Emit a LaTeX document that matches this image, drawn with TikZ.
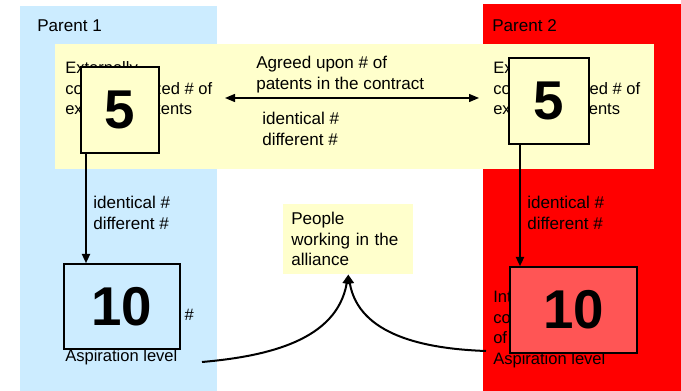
\documentclass[tikz,border=0pt]{standalone}
\usepackage{fontspec}
\setmainfont{Liberation Sans}
\usetikzlibrary{arrows.meta}

\definecolor{parentblue}{RGB}{204,236,255}
\definecolor{parentred}{RGB}{255,0,0}
\definecolor{notefill}{RGB}{255,255,204}
\definecolor{boxred}{RGB}{255,85,85}

\tikzset{
  txt/.style    = {anchor = north west, inner sep = 0pt, align = left,
                   font = \fontsize{12.8}{15.4}\selectfont},
  txtback/.style = {txt, font = \fontsize{12.4}{15.4}\selectfont},
  numbox/.style = {draw = black, line width = 1.1pt, inner sep = 0pt,
                   font = \fontsize{41}{41}\selectfont\bfseries},
  link/.style   = {line width = 1.5pt, -{Triangle[length = 7pt, width = 6pt]}},
}

\begin{document}
\begin{tikzpicture}[x = 0.75pt, y = -0.75pt]
        \useasboundingbox (0,0) rectangle (681,391);

        % parent panels and contract band
        \fill[parentblue] ( 20,6) rectangle (217,391);
        \fill[parentred]  (483,4) rectangle (681,391);
        \fill[notefill]   ( 55,44) rectangle (654,169);

        \node[txt, anchor = west] (par1) at ( 37,26) {Parent 1};
        \node[txt, anchor = west] (par2) at (492,26) {Parent 2};

        % texts behind the boxes
        \node[txtback] (extL) at ( 65,61.5) {Externally\\commercialized \# of\\exclusive patents};
        \node[txtback] (extR) at (493,61.5) {Externally\\commercialized \# of\\exclusive patents};
        \node[txtback] (intL) at ( 65,287.5) {Internally\\commercialized \#\\of patents\\Aspiration level};
        \node[txtback] (intR) at (493,290.5) {Internally\\commercialized \#\\of patents\\Aspiration level};

        % contract
        \node[txt] (agreed) at (256,56)  {Agreed upon \# of\\patents in the contract};
        \node[txt] (idC)    at (262,112) {identical \#\\different \#};
        \node[txt] (idL)    at ( 93,196) {identical \#\\different \#};
        \node[txt] (idR)    at (527,196) {identical \#\\different \#};

        % number boxes
        \node[numbox, fill = notefill,   minimum width = 58.5pt, minimum height = 64.5pt] (fiveL) at (120,110)   {5};
        \node[numbox, fill = notefill,   minimum width = 60pt,   minimum height = 64.5pt] (fiveR) at (549,101)   {5};
        \node[numbox, fill = parentblue, minimum width = 87pt,   minimum height = 63.75pt] (tenL) at (122,306.5) {10};
        \node[numbox, fill = boxred,     minimum width = 95.25pt, minimum height = 64.5pt] (tenR) at (573.5,310) {10};

        \node[txt, anchor = north west, fill = notefill, inner xsep = 6pt,
              text width = 85.5pt, minimum width = 97.5pt, minimum height = 52.5pt] (people) at (283,204)
              {People\\working in the\\alliance};

        \coordinate (xL)     at ( 86,0);
        \coordinate (xR)     at (520,0);
        \coordinate (agreeL) at (225,98);
        \coordinate (agreeR) at (479,98);
        \coordinate (aspL)   at (202,362);
        \coordinate (aspR)   at (486,351);

        \draw[line width = 1pt, {Triangle[length = 7.5pt, width = 6pt]}-{Triangle[length = 7.5pt, width = 6pt]}] (agreeL) -- (agreeR);
        \draw[link] (fiveL.south -| xL) -- (tenL.north -| xL);
        \draw[link] (fiveR.south -| xR) -- (tenR.north -| xR);
        \draw[link] (aspL) to[out = 5,   in = -100] (people.south);
        \draw[link] (aspR) to[out = 178, in = -80]  (people.south);
\end{tikzpicture}
\end{document}
